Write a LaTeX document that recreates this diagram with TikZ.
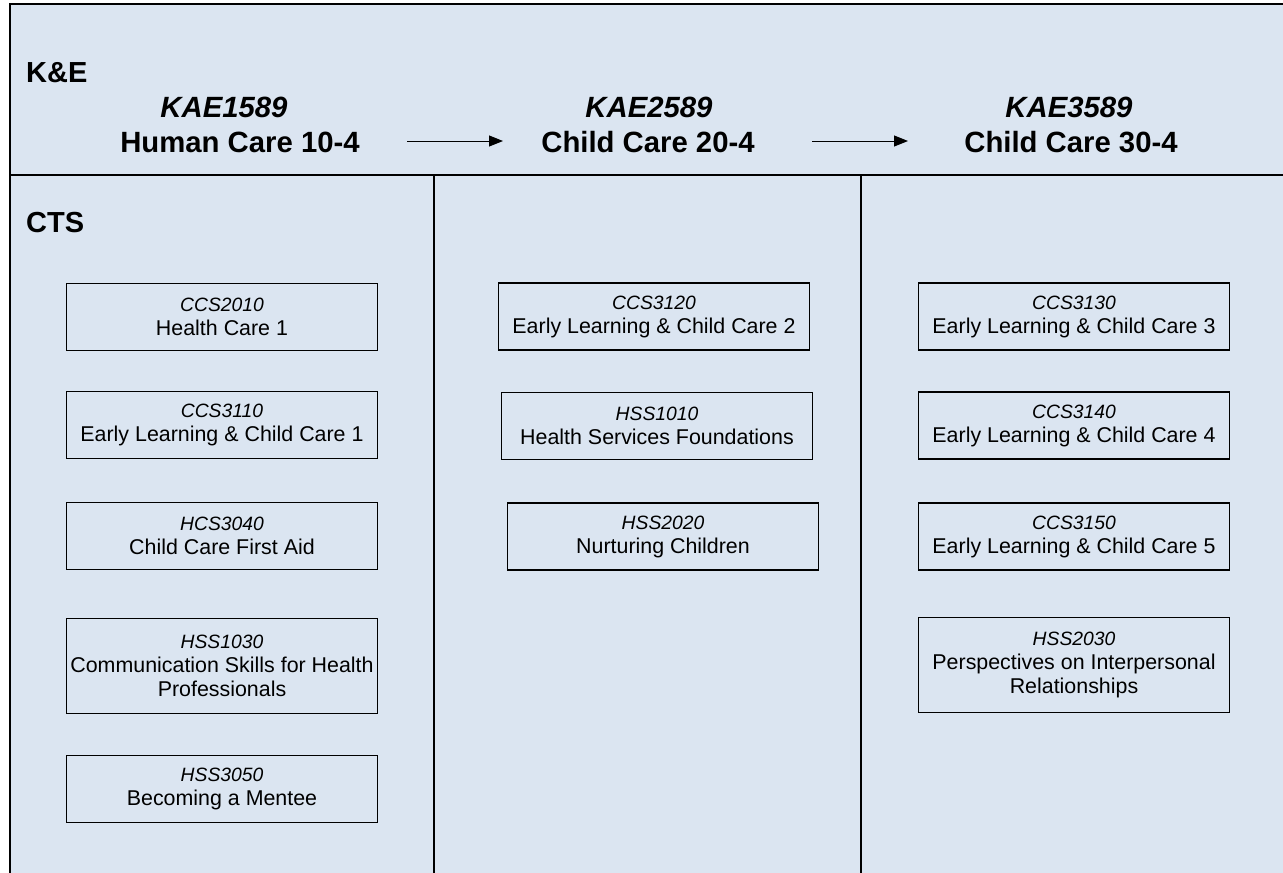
\documentclass[tikz,border=0pt]{standalone}
\usepackage{fontspec}
\setmainfont{Liberation Sans}
\usetikzlibrary{arrows.meta}
\definecolor{panel}{HTML}{DBE5F1}
\begin{document}
\begin{tikzpicture}[x=1pt,y=-1pt,
  frame/.style={line width=2.5pt,black},
  rowlabel/.style={anchor=base west,inner sep=0,font=\fontsize{29}{34}\selectfont\bfseries},
  headcode/.style={anchor=base,inner sep=0,font=\fontsize{29.3}{34}\selectfont\bfseries\itshape},
  headtitle/.style={anchor=base,inner sep=0,font=\fontsize{29.3}{34}\selectfont\bfseries},
  course/.style={draw,line width=1.9pt,align=center,inner sep=0,
     minimum width=311pt,minimum height=67pt,font=\fontsize{21.4}{24}\selectfont},
  tall/.style={minimum height=95pt},
  flow/.style={line width=1pt,-{Triangle[length=14pt,width=11pt]}}
]
\useasboundingbox (0,0) rectangle (1283,873);
\clip (0,0) rectangle (1283,873);
\fill[panel] (10,4) rectangle (1300,890);
\draw[frame] (1300,4) -- (10,4) -- (10,890);
\draw[frame] (10,175) -- (1300,175);
\draw[frame] (434,175) -- (434,890);
\draw[frame] (861,175) -- (861,890);

\newcommand{\cc}[1]{{\fontsize{19.3}{24}\selectfont\itshape #1}}

% row labels
\node[rowlabel] (ke) at (26,82) {K\&E};
\node[rowlabel] (cts) at (26,232) {CTS};

% headings
\node[headcode] (k1) at (224,117) {KAE1589};
\node[headtitle] (h1) at (240,152) {Human Care 10-4};
\node[headcode] (k2) at (649,117) {KAE2589};
\node[headtitle] (h2) at (648,152) {Child Care 20-4};
\node[headcode] (k3) at (1069,117) {KAE3589};
\node[headtitle] (h3) at (1071,152) {Child Care 30-4};

% arrows
\coordinate (a1s) at (407,141);
\coordinate (a1e) at (503,141);
\coordinate (a2s) at (812,141);
\coordinate (a2e) at (908,141);
\draw[flow] (a1s) -- (a1e);
\draw[flow] (a2s) -- (a2e);

% left column
\node[course] (b1) at (222,317) {\cc{CCS2010}\\Health Care 1};
\node[course] (b2) at (222,425) {\cc{CCS3110}\\Early Learning \& Child Care 1};
\node[course] (b3) at (222,536) {\cc{HCS3040}\\Child Care First Aid};
\node[course,tall] (b4) at (222,666) {\cc{HSS1030}\\Communication Skills for Health\\Professionals};
\node[course] (b5) at (222,789) {\cc{HSS3050}\\Becoming a Mentee};

% middle column
\node[course] (m1) at (654,316.5) {\cc{CCS3120}\\Early Learning \& Child Care 2};
\node[course] (m2) at (657,426) {\cc{HSS1010}\\Health Services Foundations};
\node[course] (m3) at (663,536.5) {\cc{HSS2020}\\Nurturing Children};

% right column
\node[course] (r1) at (1074,316.5) {\cc{CCS3130}\\Early Learning \& Child Care 3};
\node[course] (r2) at (1074,425.5) {\cc{CCS3140}\\Early Learning \& Child Care 4};
\node[course] (r3) at (1074,536.5) {\cc{CCS3150}\\Early Learning \& Child Care 5};
\node[course,tall] (r4) at (1074,665) {\cc{HSS2030}\\Perspectives on Interpersonal\\Relationships};
\end{tikzpicture}
\end{document}
